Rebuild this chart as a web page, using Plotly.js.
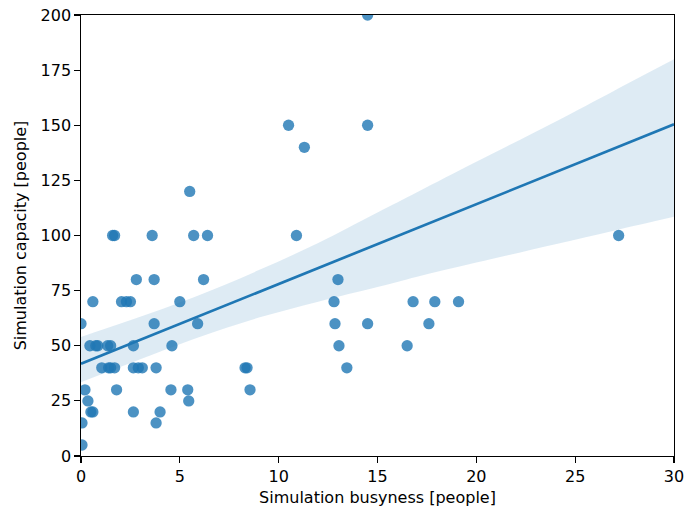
<!DOCTYPE html>
<html>
<head>
<meta charset="utf-8">
<script src="https://cdn.plot.ly/plotly-3.0.1.min.js"></script>
<style>html,body{margin:0;padding:0;background:#fff;}#chart{width:699px;height:512px;}</style>
</head>
<body>
<div id="chart"></div>
<script>
// Simulation busyness [people]
const busyness = [
  14.5,
  10.5, 14.5,
  11.3,
  5.5,
  1.6, 1.7, 3.6, 5.7, 6.4, 10.9, 27.2,
  2.8, 3.7, 6.2, 13.0,
  0.6, 2.05, 2.3, 2.5, 5.0, 12.8, 16.8, 17.9, 19.1,
  0.0, 3.7, 5.9, 12.85, 14.5, 17.6,
  0.45, 0.75, 0.85, 1.35, 1.5, 2.65, 4.6, 13.05, 16.5,
  1.05, 1.4, 1.5, 1.7, 2.65, 2.9, 3.1, 3.8, 8.3, 8.4, 13.45,
  0.2, 1.8, 4.55, 5.4, 8.55,
  0.35, 5.45,
  0.5, 0.6, 2.65, 4.0,
  0.05, 3.8,
  0.05
];
// Simulation capacity [people]
const capacity = [
  200,
  150, 150,
  140,
  120,
  100, 100, 100, 100, 100, 100, 100,
  80, 80, 80, 80,
  70, 70, 70, 70, 70, 70, 70, 70, 70,
  60, 60, 60, 60, 60, 60,
  50, 50, 50, 50, 50, 50, 50, 50, 50,
  40, 40, 40, 40, 40, 40, 40, 40, 40, 40, 40,
  30, 30, 30, 30, 30,
  25, 25,
  20, 20, 20, 20,
  15, 15,
  5
];
// Regression line and its confidence band
const fitX = [0, 30];
const fitY = [41.8, 150.4];
const bandX = [0, 3.5, 6, 9, 12, 15, 17, 20, 24, 27, 30];
const bandLower = [33.5, 45.6, 54.0, 62.8, 70.0, 76.6, 81.3, 87.7, 96.0, 102.3, 108.5];
const bandUpper = [54.0, 64.7, 73.0, 84.3, 96.6, 110.4, 119.6, 133.4, 151.6, 165.8, 179.9];
const xTicks = [0, 5, 10, 15, 20, 25, 30];
const yTicks = [0, 25, 50, 75, 100, 125, 150, 175, 200];

const C0 = '#1f77b4';
const font = {family: 'DejaVu Sans, sans-serif', size: 16, color: '#000'};
const traces = [
  {x: busyness, y: capacity, type: 'scatter', mode: 'markers',
   marker: {color: 'rgba(31,119,180,0.8)', size: 11.3, line: {width: 0}}, hoverinfo: 'x+y'},
  {x: bandX, y: bandLower, type: 'scatter', mode: 'lines', line: {width: 0, shape: 'spline', color: 'rgba(0,0,0,0)'}, hoverinfo: 'skip'},
  {x: bandX, y: bandUpper, type: 'scatter', mode: 'lines', line: {width: 0, shape: 'spline', color: 'rgba(0,0,0,0)'},
   fill: 'tonexty', fillcolor: 'rgba(31,119,180,0.15)', hoverinfo: 'skip'},
  {x: fitX, y: fitY, type: 'scatter', mode: 'lines', line: {color: C0, width: 2.7}, hoverinfo: 'skip'}
];
const axisCommon = {
  showgrid: false, zeroline: false, showline: true, mirror: true,
  linecolor: '#000', linewidth: 1.2, ticks: 'outside', ticklen: 5.5, tickwidth: 1.2, tickcolor: '#000',
  tickfont: font
};
const layout = {
  width: 699, height: 512,
  margin: {l: 81, r: 25, t: 15, b: 56},
  paper_bgcolor: '#fff', plot_bgcolor: '#fff',
  showlegend: false,
  font: font,
  xaxis: Object.assign({}, axisCommon, {
    range: [0, 30], tickvals: xTicks, ticktext: xTicks.map(String),
    title: {text: 'Simulation busyness [people]', font: font, standoff: 6}
  }),
  yaxis: Object.assign({}, axisCommon, {
    range: [0, 200], tickvals: yTicks, ticktext: yTicks.map(String),
    title: {text: 'Simulation capacity [people]', font: font, standoff: 10}
  })
};
Plotly.newPlot('chart', traces, layout, {displayModeBar: false, staticPlot: true});
</script>
</body>
</html>
